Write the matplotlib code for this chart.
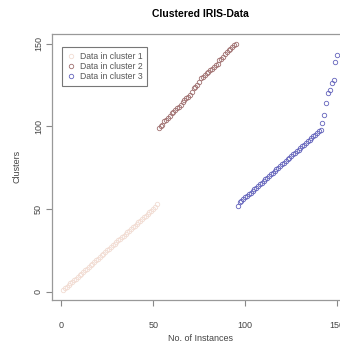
import numpy as np
import matplotlib.pyplot as plt

plt.rcParams['font.family'] = ['Liberation Sans', 'DejaVu Sans']

# row indices of the iris data, grouped by cluster
cluster1 = list(range(1, 52)) + [53]
tail3 = [102, 107, 114, 120, 122, 126, 128, 139, 143]
cluster3 = [52] + list(range(54, 99)) + tail3
cluster2 = [i for i in range(99, 151) if i not in tail3]

labels = ['Data in cluster 1', 'Data in cluster 2', 'Data in cluster 3']
colors = ['#f2dcd3', '#a07070', '#6464bc']

fig = plt.figure(figsize=(3.4, 3.42), dpi=100)
ax = fig.add_axes([0.153, 0.123, 0.871, 0.778])

start = 1
for ys, lab, c in zip([cluster1, cluster2, cluster3], labels, colors):
    xs = np.arange(start, start + len(ys))
    ax.plot(xs, ys, 'o', mfc='none', mec=c, ms=3.2, mew=0.6, label=lab)
    start += len(ys)

ax.set_xlim(-4.96, 155.96)
ax.set_ylim(-4.96, 155.96)
ax.set_xticks([0, 50, 100, 150])
ax.set_yticks([0, 50, 100, 150])
ax.tick_params(colors='#888888', labelcolor='#444444', labelsize=6.5,
               length=4, width=0.8)
ax.tick_params(axis='x', pad=11)
ax.tick_params(axis='y', pad=2.5)
for lab in ax.get_yticklabels():
    lab.set_rotation(90)
    lab.set_va('center')
for s in ax.spines.values():
    s.set_color('#999999')
    s.set_linewidth(0.9)

ax.set_xlabel('No. of Instances', fontsize=6.5, color='#444444', labelpad=3)
ax.set_ylabel('Clusters', fontsize=6.5, color='#444444', labelpad=9)
ax.set_title('Clustered IRIS-Data', fontsize=7.5, fontweight='bold', pad=12)

leg = ax.legend(loc='upper left', bbox_to_anchor=(0.02, 0.965), fontsize=6.2,
                frameon=True, fancybox=False, edgecolor='#555555',
                handletextpad=0.6, borderpad=0.5, labelspacing=0.15,
                handlelength=1.0)
leg.get_frame().set_linewidth(0.8)
for t in leg.get_texts():
    t.set_color('#555555')

fig.savefig('out.png', dpi=100)
